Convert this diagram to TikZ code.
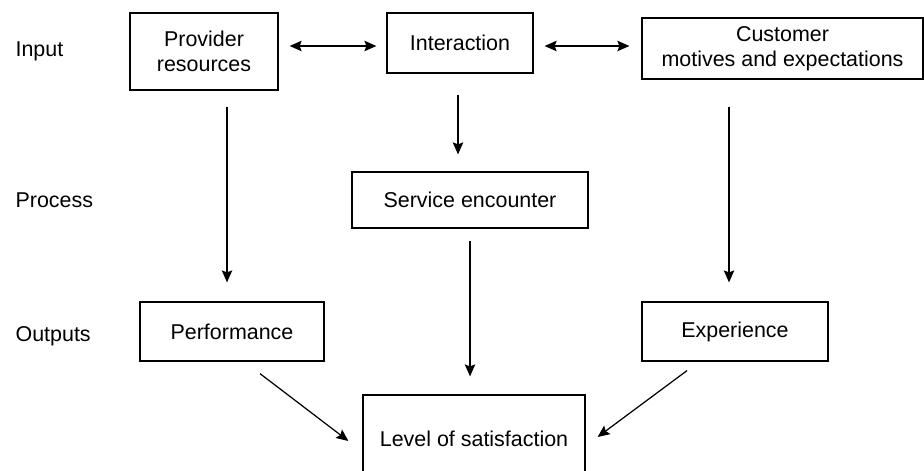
\documentclass[tikz,border=0pt]{standalone}
\usepackage{fontspec}
\setmainfont{Liberation Sans}
\usetikzlibrary{arrows.meta}

\begin{document}
\begin{tikzpicture}[>={Stealth[length=2.4mm,width=2.1mm,inset=0.4mm]}, line width=0.7pt, font=\fontsize{12.2}{14.5}\selectfont,
    box/.style={draw, align=center, inner sep=0pt},
    rowlabel/.style={anchor=west, inner sep=0pt}]
    \useasboundingbox (0,0) rectangle (18.48,9.4);

    \node[rowlabel] (input) at (0.3,8.38) {Input};
    \node[rowlabel] (process) at (0.3,5.4) {Process};
    \node[rowlabel] (outputs) at (0.3,2.68) {Outputs};

    \node[box, minimum width=2.96cm, minimum height=1.54cm] (prov) at (4.08,8.37) {Provider\\ resources};
    \node[box, minimum width=2.92cm, minimum height=1.2cm] (inter) at (9.2,8.54) {Interaction};
    \node[box, minimum width=5.62cm, minimum height=1.22cm] (cust) at (15.65,8.43) {Customer\\ motives and expectations};

    \node[box, minimum width=4.72cm, minimum height=1.12cm] (serv) at (9.4,5.4) {Service encounter};

    \node[box, minimum width=3.68cm, minimum height=1.18cm] (perf) at (4.64,2.77) {Performance};
    \node[box, minimum width=3.72cm, minimum height=1.18cm] (exp) at (14.7,2.77) {Experience};

    \node[box, minimum width=4.44cm, minimum height=1.76cm] (lev) at (9.48,0.62) {Level of satisfaction};

    \draw[<->, shorten <=0.22cm, shorten >=0.2cm] ([yshift=-0.06cm]inter.west -| prov.east) -- ([yshift=-0.06cm]inter.west);
    \draw[<->, shorten <=0.22cm, shorten >=0.24cm] ([yshift=-0.06cm]inter.east) -- ([yshift=-0.06cm]inter.east -| cust.west);

    \draw[->, shorten <=0.42cm, shorten >=0.34cm] ([xshift=-0.04cm]inter.south) -- ([xshift=-0.04cm]inter.south |- serv.north);
    \draw[->, shorten <=0.32cm, shorten >=0.38cm] ([xshift=-0.1cm]perf.north |- prov.south) -- ([xshift=-0.1cm]perf.north);
    \draw[->, shorten <=0.54cm, shorten >=0.38cm] ([xshift=-0.12cm]exp.north |- cust.south) -- ([xshift=-0.12cm]exp.north);
    \draw[->, shorten <=0.24cm, shorten >=0.36cm] (serv.south) -- (serv.south |- lev.north);

    \draw[->] ([xshift=0.56cm,yshift=-0.24cm]perf.south) -- ([xshift=-0.28cm,yshift=-0.04cm]lev.west);
    \draw[->] ([xshift=-0.96cm,yshift=-0.18cm]exp.south) -- ([xshift=0.24cm,yshift=0.04cm]lev.east);
\end{tikzpicture}
\end{document}
